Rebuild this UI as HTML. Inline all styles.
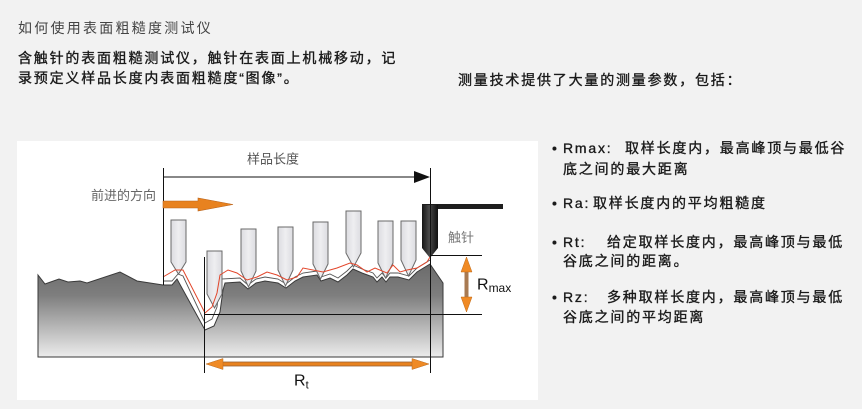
<!DOCTYPE html>
<html><head><meta charset="utf-8">
<style>
html,body{margin:0;padding:0;}
body{width:862px;height:409px;background:#f2f2f2;position:relative;overflow:hidden;font-family:"Liberation Sans","Noto Sans CJK SC",sans-serif;}
.t{position:absolute;white-space:nowrap;font-size:14px;line-height:14px;letter-spacing:1.8px;color:#1a1a1a;font-weight:normal;-webkit-text-stroke:0.35px #1a1a1a;}
.title{color:#444;letter-spacing:2.25px;-webkit-text-stroke:0;}
svg{position:absolute;left:0;top:0;}
</style></head><body>
<svg width="862" height="409" viewBox="0 0 862 409" xmlns="http://www.w3.org/2000/svg">
<defs>
<linearGradient id="g" x1="0" y1="262" x2="0" y2="357" gradientUnits="userSpaceOnUse">
<stop offset="0" stop-color="#6a6a6a"/>
<stop offset="0.35" stop-color="#7e7e7e"/>
<stop offset="1" stop-color="#ececec"/>
</linearGradient>
<linearGradient id="sg" x1="0" y1="0" x2="1" y2="0">
<stop offset="0" stop-color="#dcdce0"/>
<stop offset="0.5" stop-color="#eeeef1"/>
<stop offset="1" stop-color="#dcdce0"/>
</linearGradient>
<linearGradient id="bk" x1="0" y1="0" x2="1" y2="0">
<stop offset="0" stop-color="#151515"/>
<stop offset="0.45" stop-color="#4a4a4a"/>
<stop offset="1" stop-color="#101010"/>
</linearGradient>
</defs>
<rect x="17" y="141" width="521" height="259" fill="#fff"/>
<!-- surface -->
<path d="M38,275 L45,284 L59,279 L68,282 L80,281 L87,283 L120,272 L137,281 L163,285 L172,285 L177,279 L205,330 L214,326 L220,312 L223,290 L225,283 L240,282 L248,289 L256,283 L265,281 L278,283 L286,288 L295,281 L303,277 L317,275 L321,281 L330,278 L338,282 L347,275 L353,269 L362,273 L373,277 L377,282 L382,277 L386,282 L390,277 L398,277 L409,280 L417,272 L430,264 L443,283 L443,357 L38,357 Z" fill="url(#g)" stroke="#3a3a3a" stroke-width="1"/>
<!-- envelope -->
<polyline points="163,281 172,281 178,274 183,276 205,323 212,319 217,307 219,290 221,279 240,278 248,285 256,279 265,277 278,279 286,284 295,277 303,273 317,271 321,277 330,274 338,278 347,271 353,265 362,269 373,273 377,278 382,273 386,278 390,273 398,273 409,276 417,268 430,260" fill="none" stroke="#555" stroke-width="0.9"/>
<!-- styli -->
<g fill="url(#sg)" stroke="#6a6a6a" stroke-width="1">
<polygon points="171,220 186,220 186,262 178.5,274 171,262"/>
<polygon points="207,251 222,251 222,294 214.5,308 207,294"/>
<polygon points="241,229 256,229 256,271 248.5,287 241,271"/>
<polygon points="278,227 293,227 293,270 285.5,286 278,270"/>
<polygon points="313,222 328,222 328,264 320.5,279 313,264"/>
<polygon points="346,211 361,211 361,253 353.5,267 346,253"/>
<polygon points="378,221 393,221 393,263 385.5,278 378,263"/>
<polygon points="401,221 416,221 416,260 408.5,276 401,260"/>
</g>
<!-- real stylus -->
<rect x="422" y="204" width="81" height="5" fill="#1e1e1e"/>
<path d="M425,205 L438,205 L438,248 L430,258 L422,248 L422,208 Q422,205 425,205 Z" fill="url(#bk)"/>
<!-- red trace -->
<polyline points="163,277 175,270 183,270 205,313 212,307 217,293 220,275 228,270 237,273 247,280 257,277 267,272 277,275 287,280 297,277 303,268 323,272 337,268 350,263 357,265 367,272 375,268 387,273 393,265 400,272 407,270 417,268 427,262 430,257" fill="none" stroke="#e2452a" stroke-width="1"/>
<!-- lines -->
<g stroke="#111" stroke-width="1">
<line x1="163" y1="177" x2="416" y2="177"/>
<line x1="163.5" y1="168" x2="163.5" y2="285"/>
<line x1="430.5" y1="168" x2="430.5" y2="373"/>
<line x1="204.5" y1="257" x2="204.5" y2="373"/>
<line x1="204" y1="314.5" x2="482" y2="314.5"/>
<line x1="430" y1="255.5" x2="482" y2="255.5"/>
</g>
<polygon points="414,171 430,177 414,183" fill="#111"/>
<!-- direction arrow -->
<path d="M163,201 L198,201 L198,198 L233,204.5 L198,211 L198,208 L163,208 Z" fill="#e8821f" stroke="#b8621a" stroke-width="0.6"/>
<!-- Rt arrow -->
<rect x="218" y="362" width="198" height="4" fill="#e8821f" stroke="#9a6234" stroke-width="0.8"/>
<polygon points="206,364 223,358.5 223,369.5" fill="#ef8a25" stroke="#b86a20" stroke-width="0.5"/>
<polygon points="429,364 412,358.5 412,369.5" fill="#ef8a25" stroke="#b86a20" stroke-width="0.5"/>
<!-- Rmax arrow -->
<rect x="464.5" y="270" width="4" height="29" fill="#a87a52"/>
<polygon points="466.5,257 461,272 472,272" fill="#f08a24" stroke="#c06a18" stroke-width="0.5"/>
<polygon points="466.5,312 461,297 472,297" fill="#f08a24" stroke="#c06a18" stroke-width="0.5"/>
<!-- labels -->
<g font-family="Liberation Sans, Noto Sans CJK SC, sans-serif">
<text x="247" y="163.5" font-size="13" fill="#555">样品长度</text>
<text x="91" y="200" font-size="13" fill="#666">前进的方向</text>
<text x="448" y="242" font-size="13" fill="#777">触针</text>
<text x="294" y="385.5" font-size="16" fill="#111">R<tspan font-size="11" dy="3">t</tspan></text>
<text x="477" y="289.5" font-size="16" fill="#111">R<tspan font-size="12" dy="2.5">max</tspan></text>
</g>
</svg>

<div class="t title" style="left:18px;top:21px;">如何使用表面粗糙度测试仪</div>
<div class="t" style="left:18px;top:51px;">含触针的表面粗糙测试仪，触针在表面上机械移动，记</div>
<div class="t" style="left:18px;top:71px;">录预定义样品长度内表面粗糙度“图像”。</div>
<div class="t" style="left:458px;top:73px;">测量技术提供了大量的测量参数，包括：</div>

<div class="t" style="left:552px;top:141px;">•</div>
<div class="t" style="left:563px;top:141px;">Rmax:</div>
<div class="t" style="left:625px;top:141px;">取样长度内，最高峰顶与最低谷</div>
<div class="t" style="left:563px;top:162px;">底之间的最大距离</div>

<div class="t" style="left:552px;top:196px;">•</div>
<div class="t" style="left:563px;top:196px;">Ra:</div>
<div class="t" style="left:593px;top:196px;">取样长度内的平均粗糙度</div>

<div class="t" style="left:552px;top:235px;">•</div>
<div class="t" style="left:563px;top:235px;">Rt:</div>
<div class="t" style="left:607px;top:235px;">给定取样长度内，最高峰顶与最低</div>
<div class="t" style="left:563px;top:254px;">谷底之间的距离。</div>

<div class="t" style="left:552px;top:290px;">•</div>
<div class="t" style="left:563px;top:290px;">Rz:</div>
<div class="t" style="left:607px;top:290px;">多种取样长度内，最高峰顶与最低</div>
<div class="t" style="left:563px;top:310px;">谷底之间的平均距离</div>
</body></html>
